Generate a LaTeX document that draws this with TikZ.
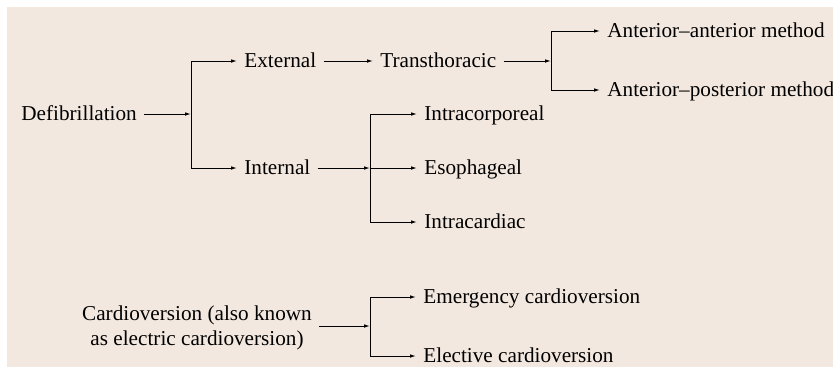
\documentclass[tikz,border=0pt]{standalone}
\usepackage{fontspec}
\setmainfont{Liberation Serif}
\usepackage{tikz}
\usepackage{xcolor}
\usetikzlibrary{arrows.meta}
\usetikzlibrary{backgrounds}
\usetikzlibrary{calc}
\usetikzlibrary{positioning}

\definecolor{paper}{RGB}{243,232,223}

\tikzset{
  item/.style={anchor=west, inner xsep=3.5pt, inner ysep=0pt,
    text height=6pt, text depth=0pt},
  link/.style={->, line width=0.5pt}
}

\begin{document}
\begin{tikzpicture}[x=0.5pt, y=-0.5pt, >={Latex[length=3pt,width=1.8pt]},
    font=\fontsize{10.6pt}{12.5pt}\selectfont]
  \useasboundingbox (0,0) rectangle (833,371);
  \fill[paper] (7,7) rectangle (833,367);

  % defibrillation tree
  \node[item] (defib) at (14,114) {Defibrillation};
  \node[item] (ext) at (237,61) {External};
  \node[item] (intl) at (237,168) {Internal};
  \node[item] (trans) at (373,61) {Transthoracic};
  \node[item] (antant) at (600,31) {Anterior--anterior method};
  \node[item] (antpost) at (600,90) {Anterior--posterior method};
  \node[item] (corp) at (417,114) {Intracorporeal};
  \node[item] (eso) at (417,168) {Esophageal};
  \node[item] (card) at (417,222) {Intracardiac};

  \coordinate (b1) at (191,114);
  \coordinate (b2) at (551,61);
  \coordinate (b3) at (370,168);

  \draw[link] (defib.east) -- (b1);
  \draw[link] (b1) |- (ext.west);
  \draw[link] (b1) |- (intl.west);
  \draw[link] (ext.east) -- (trans.west);
  \draw[link] (trans.east) -- (b2);
  \draw[link] (b2) |- (antant.west);
  \draw[link] (b2) |- (antpost.west);
  \draw[link] (intl.east) -- (b3);
  \draw[link] (b3) |- (corp.west);
  \draw[link] (b3) -- (eso.west);
  \draw[link] (b3) |- (card.west);

  % cardioversion
  \node[align=center, inner xsep=3.5pt] (cardio) at (197,328)
    {Cardioversion (also known\\as electric cardioversion)};
  \node[item] (emerg) at (416,297) {Emergency cardioversion};
  \node[item] (elect) at (416,356) {Elective cardioversion};
  \coordinate (b4) at (370,326);

  \draw[link] (cardio.east |- b4) -- (b4);
  \draw[link] (b4) |- (emerg.west);
  \draw[link] (b4) |- (elect.west);
\end{tikzpicture}
\end{document}
